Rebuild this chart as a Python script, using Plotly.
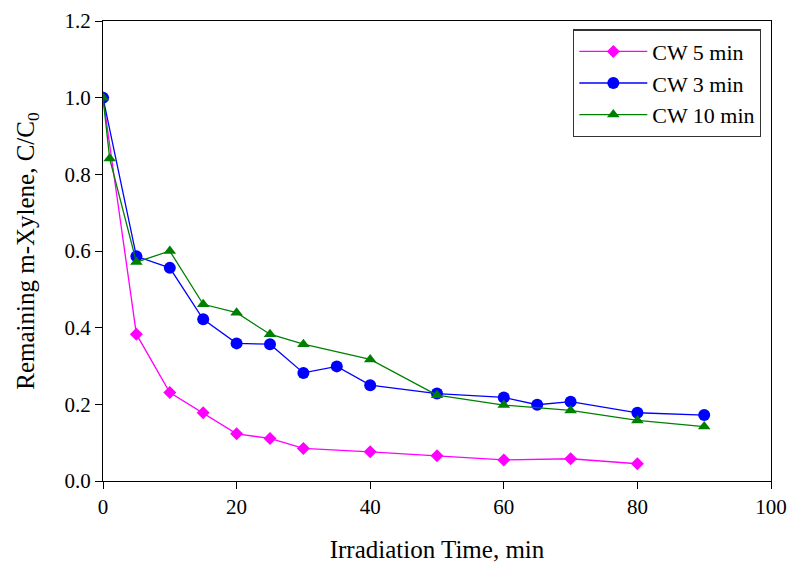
import plotly.graph_objects as go

# Irradiation time (min) and remaining fraction C/C0 for each run
time_cw5 = [0, 5, 10, 15, 20, 25, 30, 40, 50, 60, 70, 80]
conc_cw5 = [1.0, 0.383, 0.231, 0.178, 0.123, 0.111, 0.085, 0.076, 0.066, 0.055, 0.058, 0.045]

time_cw3 = [0, 5, 10, 15, 20, 25, 30, 35, 40, 50, 60, 65, 70, 80, 90]
conc_cw3 = [1.0, 0.586, 0.556, 0.422, 0.359, 0.357, 0.282, 0.299, 0.250, 0.228, 0.218, 0.199, 0.207, 0.178, 0.172]

time_cw10 = [0, 1, 5, 10, 15, 20, 25, 30, 40, 50, 60, 70, 80, 90]
conc_cw10 = [1.0, 0.841, 0.571, 0.600, 0.461, 0.439, 0.383, 0.357, 0.317, 0.224, 0.198, 0.184, 0.158, 0.142]

FONT = "Liberation Serif"

fig = go.Figure()
fig.add_trace(go.Scatter(
    x=time_cw5, y=conc_cw5, name="CW 5 min", mode="lines+markers",
    line=dict(color="#FF00FF", width=1.3),
    marker=dict(symbol="diamond", size=10, color="#FF00FF"),
))
fig.add_trace(go.Scatter(
    x=time_cw3, y=conc_cw3, name="CW 3 min", mode="lines+markers",
    line=dict(color="#0000FF", width=1.3),
    marker=dict(symbol="circle", size=12, color="#0000FF"),
))
fig.add_trace(go.Scatter(
    x=time_cw10, y=conc_cw10, name="CW 10 min", mode="lines+markers",
    line=dict(color="#008000", width=1.3),
    marker=dict(symbol="triangle-up", size=11, color="#008000"),
))

axis_common = dict(
    showgrid=False, zeroline=False, showline=True, linecolor="black", linewidth=1.3,
    mirror=True, ticks="outside", ticklen=7, tickwidth=1.3, tickcolor="black",
    tickfont=dict(family=FONT, size=21, color="black"), automargin=False,
)

fig.update_layout(
    width=791, height=564,
    margin=dict(l=103, r=20, t=21, b=83),
    paper_bgcolor="white", plot_bgcolor="white",
    font=dict(family=FONT, color="black"),
    xaxis=dict(
        range=[0, 100], dtick=20, tick0=0,
        title=dict(text="Irradiation Time, min", font=dict(family=FONT, size=25), standoff=22),
        **axis_common,
    ),
    yaxis=dict(
        range=[0, 1.2], dtick=0.2, tick0=0, tickformat=".1f",
        title=dict(text="Remaining m-Xylene, C/C<sub>0</sub>", font=dict(family=FONT, size=25), standoff=22),
        **axis_common,
    ),
    legend=dict(
        x=0.7036, y=0.982, xanchor="left", yanchor="top",
        bordercolor="#333333", borderwidth=1.3, bgcolor="white",
        font=dict(family=FONT, size=22, color="black"),
        tracegroupgap=0, itemwidth=68,
    ),
)

fig.write_html("out.html")
